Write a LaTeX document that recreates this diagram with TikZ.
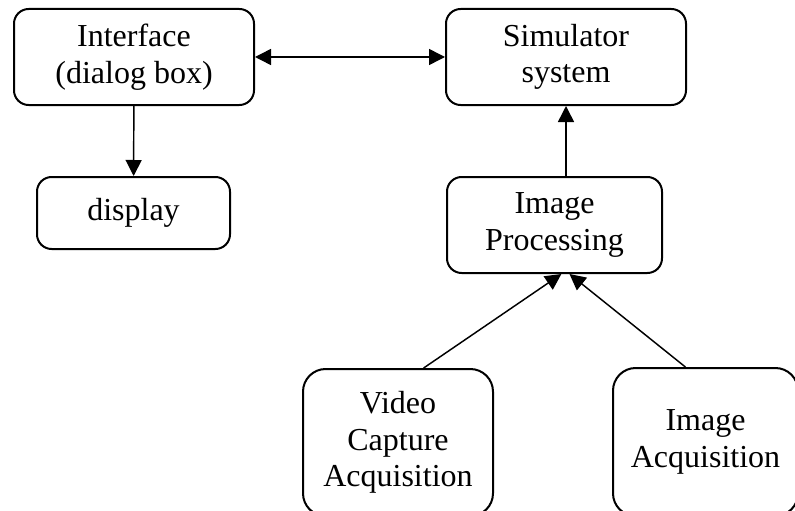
\documentclass[tikz,border=0pt]{standalone}
\usepackage{fontspec}
\setmainfont{Liberation Serif}
\usetikzlibrary{arrows.meta}
\begin{document}
\begin{tikzpicture}[x=0.75pt,y=-0.75pt]
\tikzstyle{every node}+=[inner sep=0pt,font=\fontsize{24}{27.5}\selectfont,align=center]
\tikzstyle{box}=[draw=black,line width=1.5pt,rounded corners=11pt]
\tikzstyle{bigbox}=[box,rounded corners=17pt]
\tikzstyle{arr}=[black,line width=1.1pt,-{Triangle[length=12pt,width=12pt]}]
\tikzstyle{dblarr}=[black,line width=1.1pt,{Triangle[length=12pt,width=12pt]}-{Triangle[length=12pt,width=12pt]}]
\clip (0,0) rectangle (795,510);
\node [box,minimum width=180pt,minimum height=72pt] (iface) at (134,57) {Interface\\(dialog box)};
\node [box,minimum width=180pt,minimum height=72pt] (sim) at (566,57) {Simulator\\system};
\node [box,minimum width=144.75pt,minimum height=54pt] (disp) at (133.5,213) {display};
\node [box,minimum width=161.25pt,minimum height=72pt] (ip) at (554.5,225) {Image\\Processing};
\node [bigbox,minimum width=142.5pt,minimum height=110.25pt] (vid) at (398,442.5) {Video\\Capture\\Acquisition};
\node [bigbox,minimum width=138.75pt,minimum height=111pt] (iacq) at (705.5,442) {Image\\Acquisition};
\draw [dblarr] (iface) -- (sim);
\draw [arr] (iface) -- (disp);
\draw [arr] (ip.north -| sim) -- (sim);
\draw [arr] (vid.71) -- (ip.-82);
\draw [arr] (iacq.105) -- (ip.-73);
\end{tikzpicture}
\end{document}
